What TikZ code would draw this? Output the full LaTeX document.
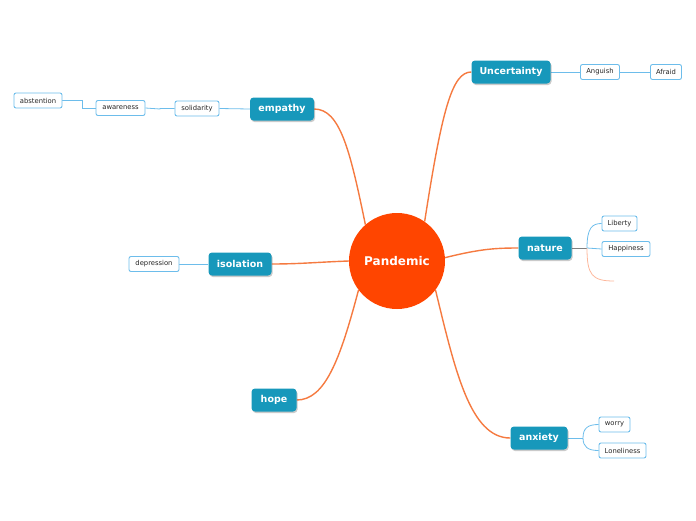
\documentclass[tikz,border=0pt]{standalone}
\usepackage{fontspec}
\setmainfont{DejaVu Sans}
\usetikzlibrary{shadows}
\pgfdeclarelayer{background}
\pgfsetlayers{background,main}
\definecolor{topicblue}{HTML}{1798BB}
\definecolor{centralred}{HTML}{FF4500}
\definecolor{branchorange}{HTML}{F57A40}
\definecolor{subblue}{HTML}{6DBDEB}
\definecolor{lightorange}{HTML}{FDB79B}
\tikzset{
  maintopic/.style={draw=none, fill=topicblue, rounded corners=3.5pt, text=white,
    font=\fontsize{9.5}{11}\selectfont\bfseries, minimum height=23pt, inner sep=2pt,
    drop shadow={shadow xshift=1pt, shadow yshift=-1.5pt, opacity=0.35, fill=black!60}},
  subtopic/.style={draw=subblue, fill=white, rounded corners=2pt, line width=0.9pt,
    font=\fontsize{6.8}{8}\selectfont, text=black!85, minimum height=15pt, inner sep=1pt},
  central/.style={circle, fill=centralred, minimum size=96pt, inner sep=0pt, text=white,
    font=\fontsize{12}{14}\selectfont\bfseries},
  mainlink/.style={draw=branchorange, line width=1.4pt},
  sublink/.style={draw=subblue, line width=0.8pt},
}
\begin{document}
\begin{tikzpicture}[x=1pt, y=-1pt]
\useasboundingbox (0,0) rectangle (696,520);
\node[central] (pan) at (397,261) {Pandemic};

\node[maintopic, minimum width=79pt] (unc) at (511,72) {Uncertainty};
\node[maintopic, minimum width=64pt] (emp) at (282,109) {empathy};
\node[maintopic, minimum width=53pt] (nat) at (545,248) {nature};
\node[maintopic, minimum width=63pt] (iso) at (240,264) {isolation};
\node[maintopic, minimum width=45pt] (hop) at (274,400) {hope};
\node[maintopic, minimum width=57pt] (anx) at (539,438) {anxiety};

\node[subtopic, minimum width=39pt] (ang) at (600,72) {Anguish};
\node[subtopic, minimum width=31pt] (afr) at (666,72) {Afraid};
\node[subtopic, minimum width=44pt] (sol) at (197,108.5) {solidarity};
\node[subtopic, minimum width=49pt] (awa) at (120.5,108) {awareness};
\node[subtopic, minimum width=48pt] (abs) at (38,100.5) {abstention};
\node[subtopic, minimum width=35pt] (lib) at (619.5,223.5) {Liberty};
\node[subtopic, minimum width=48pt] (hap) at (626,249) {Happiness};
\node[subtopic, minimum width=50pt] (dep) at (154,264) {depression};
\node[subtopic, minimum width=31pt] (wor) at (614.5,424.5) {worry};
\node[subtopic, minimum width=47pt] (lon) at (622.5,450.5) {Loneliness};

\coordinate (natfork) at (587,248);
\coordinate (anxfork) at (583,438);
\coordinate (natend) at (614,281);

\begin{pgfonlayer}{background}
% main branches
\path[mainlink] (pan.55) .. controls (442,110) and (452,72) .. (unc.west);
\path[mainlink] (pan.131) .. controls (350,150) and (340,109) .. (emp.east);
\path[mainlink] (pan.4) .. controls (480,249) and (495,248) .. (nat.west);
\path[mainlink] (pan.180) .. controls (320,262) and (300,264) .. (iso.east);
\path[mainlink] (pan.217) .. controls (340,360) and (325,400) .. (hop.east);
\path[mainlink] (pan.-37) .. controls (455,370) and (470,438) .. (anx.west);

% sub branches
\path[sublink] (unc.east) -- (ang.west);
\path[sublink] (ang.east) -- (afr.west);
\path[sublink] (emp.west) -- (sol.east);
\path[sublink] (sol.west) -- (160,108.5) -- (160,109) -- (awa.east);
\path[sublink] (awa.west) -- (82,108) -- (82,100.5) -- (abs.east);
\path[sublink] (iso.west) -- (dep.east);
\path[draw=black!50, line width=0.8pt] (nat.east) -- (natfork);
\path[sublink] (natfork) .. controls (587,228) and (592,223.5) .. (lib.west);
\path[sublink] (natfork) -- (hap.west);
\path[draw=lightorange, line width=0.8pt] (natfork) .. controls (587,275) and (592,281) .. (natend);
\path[sublink] (anx.east) -- (anxfork);
\path[sublink] (anxfork) .. controls (583,428) and (588,424.5) .. (wor.west);
\path[sublink] (anxfork) .. controls (583,447) and (588,450.5) .. (lon.west);
\end{pgfonlayer}
\end{tikzpicture}
\end{document}
